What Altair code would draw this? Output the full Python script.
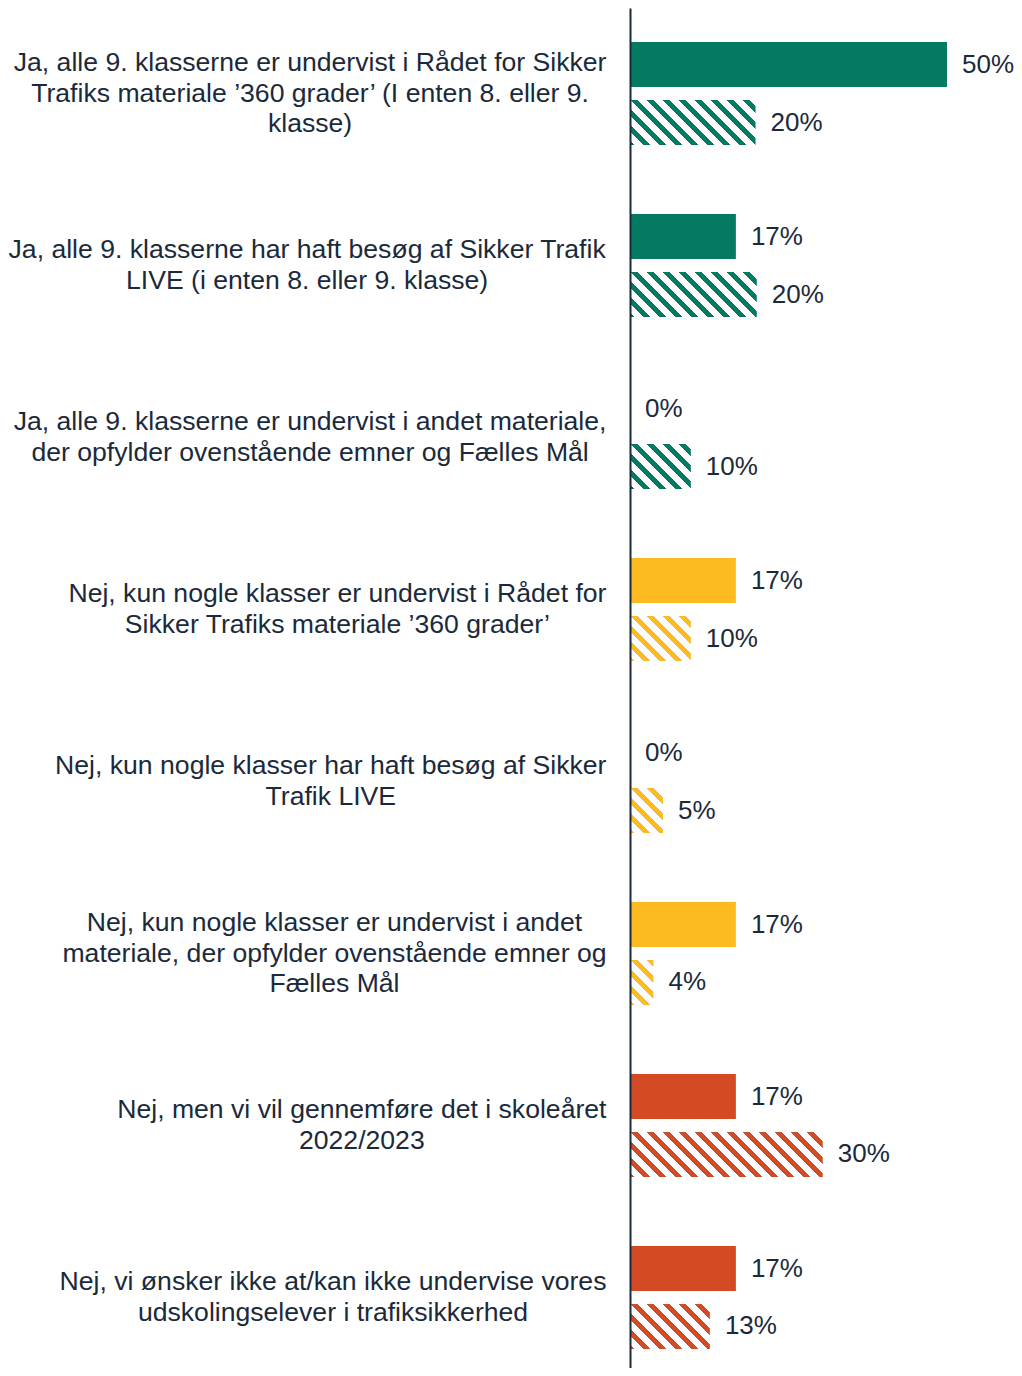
import altair as alt
import pandas as pd

# ---------------- data ----------------
category_lines = [
    ["Ja, alle 9. klasserne er undervist i Rådet for Sikker",
     "Trafiks materiale ’360 grader’ (I enten 8. eller 9.",
     "klasse)"],
    ["Ja, alle 9. klasserne har haft besøg af Sikker Trafik",
     "LIVE (i enten 8. eller 9. klasse)"],
    ["Ja, alle 9. klasserne er undervist i andet materiale,",
     "der opfylder ovenstående emner og Fælles Mål"],
    ["Nej, kun nogle klasser er undervist i Rådet for",
     "Sikker Trafiks materiale ’360 grader’"],
    ["Nej, kun nogle klasser har haft besøg af Sikker",
     "Trafik LIVE"],
    ["Nej, kun nogle klasser er undervist i andet",
     "materiale, der opfylder ovenstående emner og",
     "Fælles Mål"],
    ["Nej, men vi vil gennemføre det i skoleåret",
     "2022/2023"],
    ["Nej, vi ønsker ikke at/kan ikke undervise vores",
     "udskolingselever i trafiksikkerhed"],
]
categories = [" ".join(l) for l in category_lines]
groups = ["Ja", "Ja", "Ja", "Delvist", "Delvist", "Delvist", "Nej", "Nej"]
series = ["serie1", "serie2"]
solid_values = [50.0, 16.7, 0.0, 16.7, 0.0, 16.7, 16.7, 16.7]
hatched_values = [19.8, 20.0, 9.6, 9.6, 5.2, 3.7, 30.4, 12.6]

group_domain = ["Ja", "Delvist", "Nej"]
group_colors = ["#047A62", "#FDBB21", "#D44A24"]
color_of = dict(zip(group_domain, group_colors))

# ---------------- layout / style ----------------
TEXT = "#1B2A3A"
FONT = "Liberation Sans, Arial, Helvetica, sans-serif"
FS = 26.6         # category labels
FS_VAL = 26       # value labels
LH = 30.5
TOTAL_W = 1006
HEIGHT = 1360
PAD_LEFT = 622
GAP = 23.5        # px between label block and axis
VAL_DX = 15
PX = 6.34         # px per percentage point
WIDTH = TOTAL_W - PAD_LEFT
X_MAX = WIDTH / PX
Y_PI, Y_PO, Y_ALIGN = 0.3256, 0.1163, 0.6875
O_PI, O_PO = 0.224, 0.112
STEP = HEIGHT / (len(categories) - Y_PI + 2 * Y_PO)
BAR_H = STEP * (1 - Y_PI) / 2 * (1 - O_PI)

# Arial / Liberation Sans advance widths (1/1000 em)
W = {' ': 278, ',': 278, '.': 278, '(': 333, ')': 333, '/': 278, '’': 222, '%': 889,
     'a': 556, 'b': 556, 'c': 500, 'd': 556, 'e': 556, 'f': 278, 'g': 556, 'h': 556,
     'i': 222, 'j': 222, 'k': 500, 'l': 222, 'm': 833, 'n': 556, 'o': 556, 'p': 556,
     'q': 556, 'r': 333, 's': 500, 't': 278, 'u': 556, 'v': 500, 'w': 722, 'x': 500,
     'y': 500, 'z': 500, 'å': 556, 'æ': 889, 'ø': 611,
     'A': 667, 'B': 667, 'C': 722, 'D': 722, 'E': 667, 'F': 611, 'G': 778, 'H': 722,
     'I': 278, 'J': 500, 'K': 667, 'L': 556, 'M': 833, 'N': 722, 'O': 778, 'P': 667,
     'R': 722, 'S': 667, 'T': 611, 'U': 722, 'V': 667, 'W': 944}


def text_width(s):
    return sum(W.get(c, 556) for c in s) / 1000 * FS


block_w = [max(text_width(s) for s in l) for l in category_lines]

rows = []
for i, c in enumerate(categories):
    rows.append({"cat": c, "group": groups[i], "series": series[0], "value": solid_values[i],
                 "pct": solid_values[i] / 100})
    rows.append({"cat": c, "group": groups[i], "series": series[1], "value": hatched_values[i],
                 "pct": hatched_values[i] / 100})
bars = pd.DataFrame(rows)

labels = pd.DataFrame({
    "cat": categories,
    "lines": category_lines,
    "n": [len(l) for l in category_lines],
    "lx": [(-GAP - bw / 2) / PX for bw in block_w],
})

x_scale = alt.Scale(domain=[0, X_MAX], nice=False, zero=True)
y_enc = alt.Y("cat:N", sort=categories, title=None,
              scale=alt.Scale(domain=categories, paddingInner=Y_PI, paddingOuter=Y_PO, align=Y_ALIGN),
              axis=alt.Axis(labels=False, ticks=False, grid=False, title=None,
                            domainColor=TEXT, domainWidth=2, zindex=1))
yoff_enc = alt.YOffset("series:N", sort=series,
                       scale=alt.Scale(domain=series, paddingInner=O_PI, paddingOuter=O_PO))

base = alt.Chart(bars)

solid = base.transform_filter(alt.datum.series == series[0]).mark_bar().encode(
    x=alt.X("value:Q", scale=x_scale, axis=None),
    y=y_enc,
    yOffset=yoff_enc,
    color=alt.Color("group:N", scale=alt.Scale(domain=group_domain, range=group_colors), legend=None),
)


def hatch_gradient(value, color, period=16.0, frac=0.45):
    w = max(value * PX, 0.5)
    h = BAR_H
    k = (w + h) / (w * w + h * h)
    total = w + h
    stops = []
    m = int(-h // period) - 1
    while m * period < w + period:
        a = (m * period + h) / total
        b = (m * period + frac * period + h) / total
        m += 1
        a, b = max(a, 0.0), min(b, 1.0)
        if b <= 0 or a >= 1 or b <= a:
            continue
        stops += [{"offset": a, "color": "#FFFFFF"}, {"offset": a, "color": color},
                  {"offset": b, "color": color}, {"offset": b, "color": "#FFFFFF"}]
    if not stops:
        stops = [{"offset": 0, "color": "#FFFFFF"}, {"offset": 1, "color": "#FFFFFF"}]
    return {"gradient": "linear", "x1": 0, "y1": 1, "x2": k * w, "y2": 1 - k * h, "stops": stops}


hatched_layers = []
for i, c in enumerate(categories):
    v = hatched_values[i]
    layer = base.transform_filter(
        (alt.datum.series == series[1]) & (alt.datum.cat == c)
    ).mark_bar(fill=hatch_gradient(v, color_of[groups[i]]), strokeWidth=0).encode(
        x=alt.X("value:Q", scale=x_scale, axis=None),
        y=y_enc,
        yOffset=yoff_enc,
    )
    hatched_layers.append(layer)

values_text = base.mark_text(align="left", baseline="middle", dx=VAL_DX, font=FONT,
                             fontSize=FS_VAL, color=TEXT).encode(
    x=alt.X("value:Q", scale=x_scale, axis=None),
    y=y_enc,
    yOffset=yoff_enc,
    text=alt.Text("pct:Q", format=".0%"),
)

label_layers = []
for n in sorted(set(labels["n"])):
    label_layers.append(
        alt.Chart(labels).transform_filter(alt.datum.n == n).mark_text(
            align="center", baseline="middle", font=FONT, fontSize=FS, lineHeight=LH,
            color=TEXT, dy=-(n - 1) * LH / 2,
        ).encode(
            x=alt.X("lx:Q", scale=x_scale, axis=None),
            y=y_enc,
            text="lines",
        )
    )

chart = alt.layer(solid, *hatched_layers, values_text, *label_layers).properties(
    width=WIDTH,
    height=HEIGHT,
    padding={"left": PAD_LEFT, "top": 0, "right": 0, "bottom": 0},
    autosize=alt.AutoSizeParams(type="none"),
    background="white",
).configure_view(stroke=None)

chart.save("out.html", embed_options={"renderer": "svg", "actions": False})
